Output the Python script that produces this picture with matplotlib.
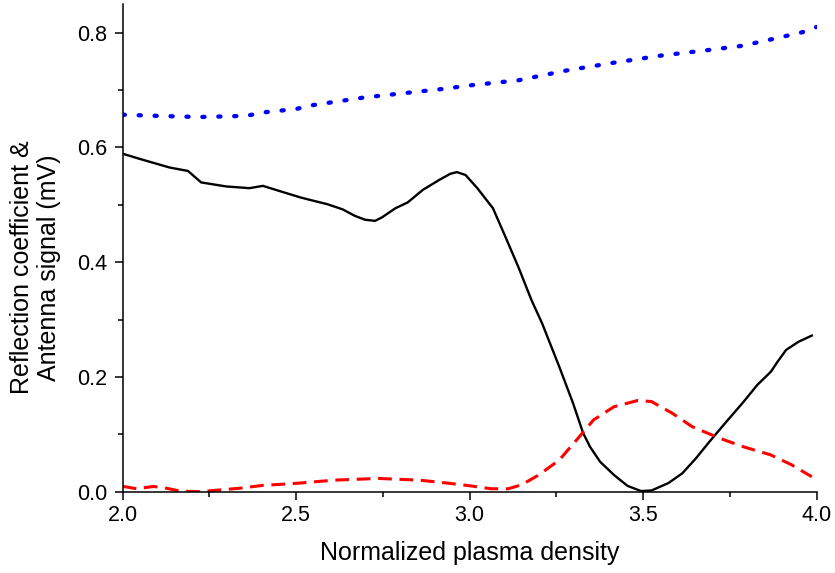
import matplotlib
matplotlib.use("Agg")
import matplotlib.pyplot as plt
from matplotlib.ticker import MultipleLocator

plt.rcParams['font.family'] = ['Liberation Sans', 'DejaVu Sans']

# reflection coefficient (solid black)
refl_x = [2.0, 2.049, 2.135, 2.188, 2.226, 2.298, 2.365, 2.404, 2.452, 2.511,
          2.550, 2.590, 2.634, 2.668, 2.698, 2.727, 2.747, 2.786, 2.821, 2.865,
          2.914, 2.944, 2.963, 2.988, 3.022, 3.067, 3.101, 3.140, 3.178, 3.209,
          3.258, 3.298, 3.327, 3.347, 3.376, 3.416, 3.455, 3.494, 3.524, 3.573,
          3.613, 3.652, 3.691, 3.740, 3.790, 3.829, 3.868, 3.888, 3.912, 3.947, 3.986]
refl_y = [0.589, 0.580, 0.565, 0.559, 0.539, 0.532, 0.529, 0.533, 0.524, 0.513,
          0.507, 0.501, 0.492, 0.481, 0.474, 0.472, 0.478, 0.494, 0.504, 0.526,
          0.544, 0.554, 0.557, 0.552, 0.529, 0.494, 0.447, 0.392, 0.334, 0.293,
          0.218, 0.154, 0.102, 0.078, 0.052, 0.029, 0.010, 0.001, 0.002, 0.015,
          0.032, 0.058, 0.087, 0.122, 0.157, 0.186, 0.209, 0.227, 0.247, 0.261, 0.272]

# antenna signal (dashed red)
ant_x = [2.0, 2.012, 2.040, 2.088, 2.117, 2.165, 2.223, 2.280, 2.338, 2.405,
         2.463, 2.511, 2.609, 2.737, 2.855, 2.934, 3.003, 3.062, 3.111, 3.150,
         3.199, 3.258, 3.308, 3.357, 3.416, 3.485, 3.524, 3.583, 3.642, 3.721,
         3.790, 3.868, 3.927, 3.986]
ant_y = [0.009, 0.008, 0.005, 0.009, 0.007, 0.001, 0.000, 0.003, 0.006, 0.011,
         0.013, 0.015, 0.020, 0.023, 0.020, 0.015, 0.010, 0.005, 0.005, 0.012,
         0.029, 0.055, 0.090, 0.125, 0.148, 0.159, 0.157, 0.137, 0.113, 0.093,
         0.078, 0.064, 0.047, 0.026]

# third trace (dotted blue)
dot_x = [2.0, 2.1, 2.22, 2.356, 2.404, 2.5, 2.540, 2.695, 2.924, 2.998, 3.140,
         3.278, 3.408, 3.550, 3.691, 3.784, 3.874, 3.960, 4.0]
dot_y = [0.657, 0.655, 0.653, 0.655, 0.661, 0.667, 0.673, 0.687, 0.702, 0.708,
         0.717, 0.734, 0.747, 0.760, 0.770, 0.777, 0.789, 0.801, 0.810]

fig = plt.figure(figsize=(8.35, 5.73), dpi=100)
ax = fig.add_axes([0.147, 0.142, 0.831, 0.851])

ax.plot(dot_x, dot_y, color="#0000ff", lw=3.1, linestyle=(0, (0.5, 3.2)),
        dash_capstyle="round")
ax.plot(refl_x, refl_y, color="black", lw=1.7, solid_joinstyle="round")
ax.plot(ant_x, ant_y, color="#ff0000", lw=2.2, linestyle=(0, (4.5, 2.5)))

ax.set_xlim(2.0, 4.0)
ax.set_ylim(0.0, 0.85)
ax.xaxis.set_major_locator(MultipleLocator(0.5))
ax.xaxis.set_minor_locator(MultipleLocator(0.25))
ax.yaxis.set_major_locator(MultipleLocator(0.2))
ax.yaxis.set_minor_locator(MultipleLocator(0.1))
ax.xaxis.set_major_formatter(plt.FormatStrFormatter("%.1f"))
ax.yaxis.set_major_formatter(plt.FormatStrFormatter("%.1f"))

for side in ("top", "right"):
    ax.spines[side].set_visible(False)
for side in ("left", "bottom"):
    ax.spines[side].set_linewidth(1.1)

ax.tick_params(which="major", direction="out", length=6, width=1.1, labelsize=15.5)
ax.tick_params(which="minor", direction="out", length=3.5, width=1.1)
ax.tick_params(axis="x", which="major", pad=3.5)
ax.tick_params(axis="y", which="major", pad=5)

ax.set_xlabel("Normalized plasma density", fontsize=18, labelpad=11)
ax.set_ylabel("Reflection coefficient &\nAntenna signal (mV)", fontsize=18,
              ha="center", linespacing=1.15)
ax.yaxis.set_label_coords(-0.089, 0.46)

fig.savefig("out.png", dpi=100)
